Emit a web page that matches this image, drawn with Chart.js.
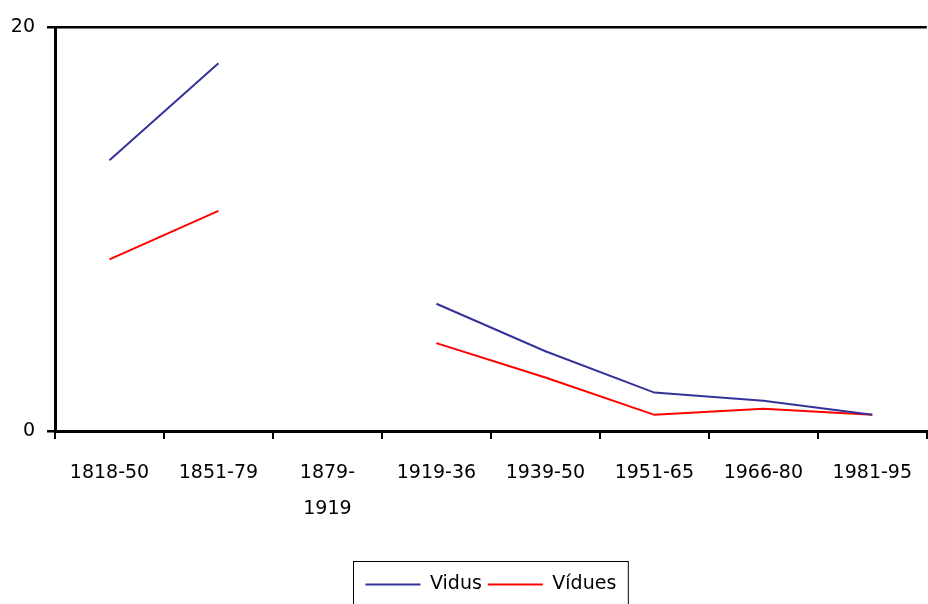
<!DOCTYPE html>
<html>
<head>
<meta charset="utf-8">
<script src="https://cdn.jsdelivr.net/npm/chart.js@4"></script>
<style>
html, body { margin: 0; padding: 0; background: #fff; }
.canvas-container { width: 928px; height: 604px; position: relative; }
</style>
</head>
<body>
<div class="canvas-container"><canvas id="myChart"></canvas></div>
<script>
"use strict";
const periods = ['1818-50', '1851-79', ['1879-', '1919'], '1919-36', '1939-50', '1951-65', '1966-80', '1981-95'];
const vidus = [13.4, 18.2, null, 6.3, 3.95, 1.9, 1.5, 0.8];
const vidues = [8.5, 10.9, null, 4.35, 2.65, 0.8, 1.1, 0.8];
const yMin = 0;
const yMax = 20;

const FONT = { family: 'DejaVu Sans', size: 19 };

// Excel-style frame around the legend
const legendBox = {
    id: 'legendBox',
    afterDraw(chart) {
        const boxes = chart.legend.legendHitBoxes;
        if (!boxes || !boxes.length) return;
        const left = Math.min(...boxes.map(b => b.left)) - 12;
        const right = Math.max(...boxes.map(b => b.left + b.width)) + 12;
        const top = Math.min(...boxes.map(b => b.top)) - 14;
        const ctx = chart.ctx;
        ctx.save();
        ctx.strokeStyle = '#000';
        ctx.lineWidth = 1;
        ctx.strokeRect(Math.round(left) + 0.5, Math.round(top) + 0.5, right - left, chart.height - top + 10);
        ctx.restore();
    }
};

const ctx = document.getElementById('myChart');
new Chart(ctx, {
    type: 'line',
    data: {
        labels: periods,
        datasets: [{
            label: 'Vidus',
            data: vidus,
            borderColor: '#333399',
            backgroundColor: '#333399',
            borderWidth: 2,
            pointRadius: 0,
            tension: 0,
            spanGaps: false
        }, {
            label: 'Vídues',
            data: vidues,
            borderColor: '#ff0000',
            backgroundColor: '#ff0000',
            borderWidth: 2,
            pointRadius: 0,
            tension: 0,
            spanGaps: false
        }]
    },
    options: {
        responsive: true,
        maintainAspectRatio: false,
        animation: false,
        layout: { padding: { top: 27, left: 0, right: 0, bottom: 0 } },
        scales: {
            x: {
                offset: true,
                grid: { offset: true, drawOnChartArea: false, color: '#000', lineWidth: 2, tickLength: 8 },
                border: { display: true, color: '#000', width: 3 },
                ticks: { color: '#000', font: { ...FONT, lineHeight: 1.9 }, padding: 16, maxRotation: 0, autoSkip: false },
                afterFit: s => { s.height = 138; }
            },
            y: {
                min: yMin,
                max: yMax,
                grid: { drawOnChartArea: true, color: '#000', lineWidth: 2.5, tickLength: 8 },
                border: { display: true, color: '#000', width: 3 },
                ticks: { color: '#000', font: FONT, padding: 12, stepSize: 20 },
                afterFit: s => { s.width = 55; }
            }
        },
        plugins: {
            legend: {
                position: 'bottom',
                fullSize: false,
                labels: {
                    color: '#000',
                    font: FONT,
                    usePointStyle: true,
                    pointStyle: 'line',
                    pointStyleWidth: 55,
                    padding: 6
                }
            },
            tooltip: { enabled: false }
        }
    },
    plugins: [legendBox]
});
</script>
</body>
</html>
